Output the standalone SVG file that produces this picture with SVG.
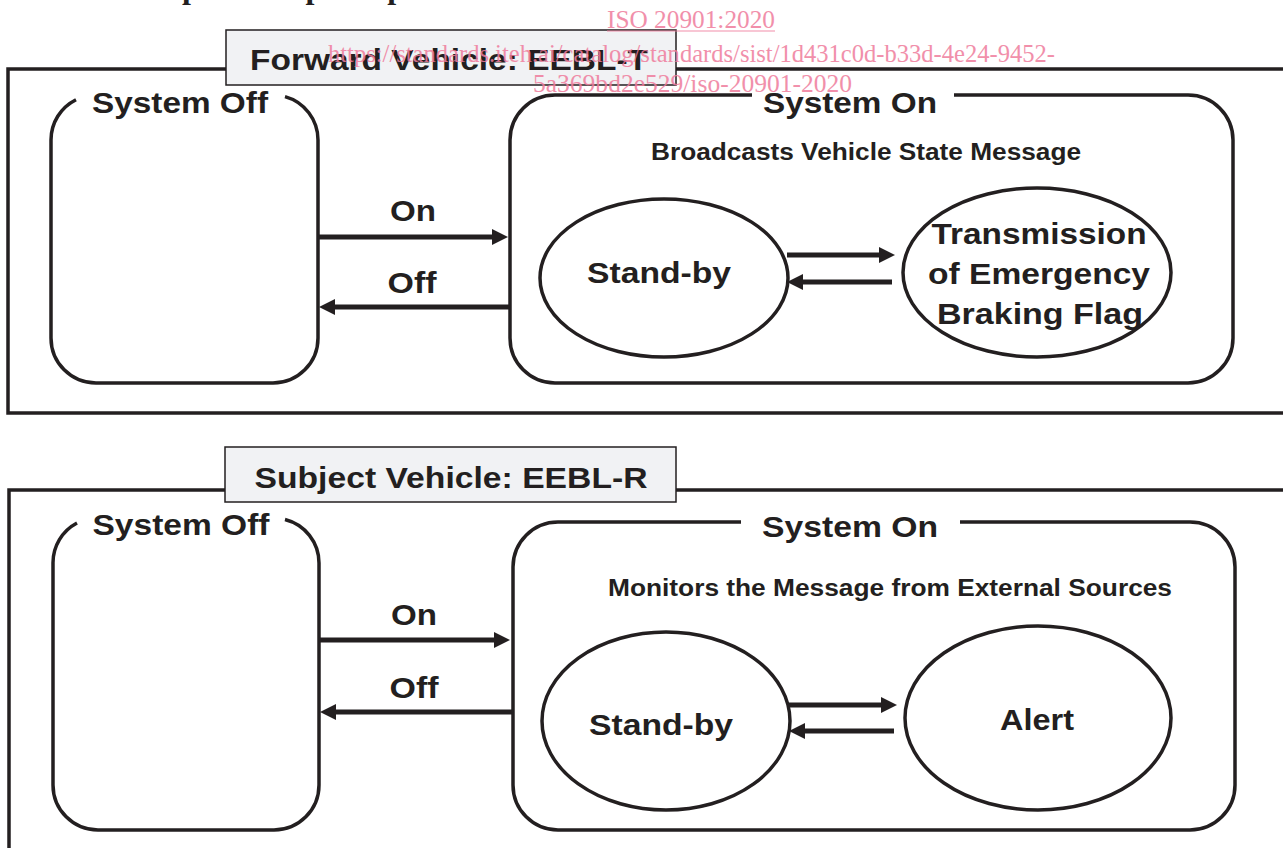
<svg xmlns="http://www.w3.org/2000/svg" width="1283" height="848" viewBox="0 0 1283 848">
  <defs>
    <style>
      .frame { fill: none; stroke: #231f20; stroke-width: 3.5; }
      .box { fill: none; stroke: #231f20; stroke-width: 3.5; }
      .tag { fill: #f1f2f4; stroke: #231f20; stroke-width: 1.5; }
      .lbl { font-family: "Liberation Sans", Arial, sans-serif; font-weight: bold; fill: #231f20; text-anchor: middle; }
      .big { font-size: 30px; }
      .mid { font-size: 23px; }
      .heading { font-family: "Liberation Serif", "Times New Roman", serif; font-weight: bold; font-size: 32px; fill: #231f20; }
      .wm { font-family: "Liberation Serif", "Times New Roman", serif; font-size: 25px; fill: #ef7c9c; opacity: 0.85; }
      .arrow { stroke: #231f20; stroke-width: 5; fill: none; }
    </style>
    <marker id="head" markerUnits="userSpaceOnUse" markerWidth="18" markerHeight="18" refX="8" refY="8" orient="auto">
      <path d="M0,0 L16,8 L0,16 z" fill="#231f20"/>
    </marker>
  </defs>

  <rect width="1283" height="848" fill="#ffffff"/>

  <!-- section heading, clipped by the top edge -->
  <text class="heading" x="2" y="-2">5.3 EEBL's <tspan x="166">operation principle</tspan></text>

  <!-- ===== Forward vehicle panel ===== -->
  <g id="panel-forward">
    <path class="frame" d="M226,69 H8 V413 H1295 M676,69 H1295"/>
    <rect class="tag" x="226" y="30" width="450" height="55"/>
    <text class="lbl big" x="449" y="70" font-size="31" textLength="398" lengthAdjust="spacingAndGlyphs">Forward Vehicle: EEBL-T</text>
  </g>

  <g id="fwd-system-off">
    <path class="box" d="M76,99.7 A45,45 0 0 0 51,140 V338 A45,45 0 0 0 96,383 H273 A45,45 0 0 0 318,338 V140 A45,45 0 0 0 285,96.6"/>
    <text class="lbl big" x="180" y="113" textLength="176" lengthAdjust="spacingAndGlyphs">System Off</text>
  </g>

  <g id="fwd-system-on">
    <path class="box" d="M752,95 H555 A45,45 0 0 0 510,140 V338 A45,45 0 0 0 555,383 H1188 A45,45 0 0 0 1233,338 V140 A45,45 0 0 0 1188,95 H954"/>
    <text class="lbl big" x="850" y="113" textLength="174" lengthAdjust="spacingAndGlyphs">System On</text>
    <text class="lbl mid" x="866" y="160" textLength="430" lengthAdjust="spacingAndGlyphs">Broadcasts Vehicle State Message</text>
  </g>

  <g id="fwd-standby">
    <ellipse class="box" cx="664" cy="278" rx="124" ry="79"/>
    <text class="lbl big" x="659" y="283" textLength="144" lengthAdjust="spacingAndGlyphs">Stand-by</text>
  </g>

  <g id="fwd-transmission">
    <ellipse class="box" cx="1037" cy="272.5" rx="134" ry="84.5"/>
    <text class="lbl big" x="1039" y="244" textLength="215" lengthAdjust="spacingAndGlyphs">Transmission</text>
    <text class="lbl big" x="1039" y="284" textLength="222" lengthAdjust="spacingAndGlyphs">of Emergency</text>
    <text class="lbl big" x="1040" y="324" textLength="206" lengthAdjust="spacingAndGlyphs">Braking Flag</text>
  </g>

  <!-- ===== Subject vehicle panel ===== -->
  <g id="panel-subject">
    <path class="frame" d="M225,490 H9 V870 M676,490 H1295"/>
    <rect class="tag" x="225" y="447" width="451" height="55"/>
    <text class="lbl big" x="451" y="488" font-size="33" textLength="393" lengthAdjust="spacingAndGlyphs">Subject Vehicle: EEBL-R</text>
  </g>

  <g id="subj-system-off">
    <path class="box" d="M77,523 A45,45 0 0 0 53,563 V785 A45,45 0 0 0 98,830 H274 A45,45 0 0 0 319,785 V563 A45,45 0 0 0 285,519.5"/>
    <text class="lbl big" x="181" y="535" textLength="177" lengthAdjust="spacingAndGlyphs">System Off</text>
  </g>

  <g id="subj-system-on">
    <path class="box" d="M741,522 H558 A45,45 0 0 0 513,567 V785 A45,45 0 0 0 558,830 H1190 A45,45 0 0 0 1235,785 V567 A45,45 0 0 0 1190,522 H960"/>
    <text class="lbl big" x="850" y="537" textLength="176" lengthAdjust="spacingAndGlyphs">System On</text>
    <text class="lbl mid" x="890" y="596" textLength="564" lengthAdjust="spacingAndGlyphs">Monitors the Message from External Sources</text>
  </g>

  <g id="subj-standby">
    <ellipse class="box" cx="666" cy="721" rx="124" ry="89"/>
    <text class="lbl big" x="661" y="735" textLength="144" lengthAdjust="spacingAndGlyphs">Stand-by</text>
  </g>

  <g id="subj-alert">
    <ellipse class="box" cx="1038" cy="718" rx="133" ry="92"/>
    <text class="lbl big" x="1037" y="730" textLength="74" lengthAdjust="spacingAndGlyphs">Alert</text>
  </g>

  <!-- ===== transitions ===== -->
  <g id="connectors">
    <line class="arrow" x1="318" y1="237" x2="500" y2="237" marker-end="url(#head)"/>
    <line class="arrow" x1="509" y1="307" x2="327" y2="307" marker-end="url(#head)"/>
    <line class="arrow" x1="787" y1="255" x2="887" y2="255" marker-end="url(#head)"/>
    <line class="arrow" x1="892" y1="282" x2="795" y2="282" marker-end="url(#head)"/>

    <line class="arrow" x1="319" y1="640" x2="502" y2="640" marker-end="url(#head)"/>
    <line class="arrow" x1="512" y1="712" x2="328" y2="712" marker-end="url(#head)"/>
    <line class="arrow" x1="789" y1="705" x2="889" y2="705" marker-end="url(#head)"/>
    <line class="arrow" x1="894" y1="731" x2="797" y2="731" marker-end="url(#head)"/>
  </g>

  <g id="transition-labels">
    <text class="lbl big" x="413" y="221" textLength="46" lengthAdjust="spacingAndGlyphs">On</text>
    <text class="lbl big" x="412" y="293" textLength="49" lengthAdjust="spacingAndGlyphs">Off</text>
    <text class="lbl big" x="414" y="625" textLength="46" lengthAdjust="spacingAndGlyphs">On</text>
    <text class="lbl big" x="414" y="698" textLength="49" lengthAdjust="spacingAndGlyphs">Off</text>
  </g>

  <!-- document stamp laid over the figure -->
  <g id="stamp">
    <text class="wm" x="607" y="28" textLength="168" lengthAdjust="spacingAndGlyphs">ISO 20901:2020</text>
    <line x1="607" y1="31" x2="775" y2="31" stroke="#ef7c9c" stroke-width="1.2" opacity="0.85"/>
    <text class="wm" x="328" y="62" textLength="727" lengthAdjust="spacingAndGlyphs">https://standards.iteh.ai/catalog/standards/sist/1d431c0d-b33d-4e24-9452-</text>
    <text class="wm" x="533" y="92" textLength="319" lengthAdjust="spacingAndGlyphs">5a369bd2e529/iso-20901-2020</text>
  </g>
</svg>
